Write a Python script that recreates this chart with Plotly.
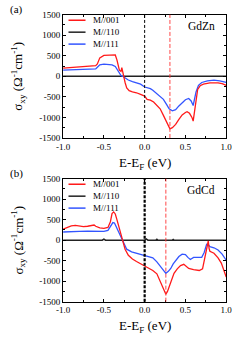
import plotly.graph_objects as go

# ---------------- data ----------------
zn_001_x = [-1.0,-0.9,-0.8,-0.7,-0.6,-0.58,-0.55,-0.5,-0.45,-0.4,-0.36,-0.34,-0.31,-0.29,-0.28,-0.27,-0.26,-0.24,-0.22,-0.19,-0.15,-0.1,-0.05,0.0,0.03,0.07,0.11,0.15,0.19,0.23,0.27,0.31,0.34,0.38,0.42,0.46,0.5,0.52,0.55,0.58,0.595,0.61,0.63,0.65,0.68,0.72,0.8,0.9,0.95,1.0]
zn_001_y = [200,215,230,245,260,300,450,510,520,525,520,400,150,120,210,120,0,-150,-280,-350,-380,-400,-440,-480,-560,-580,-625,-700,-790,-950,-1120,-1280,-1250,-1170,-1050,-940,-880,-860,-900,-1000,-1090,-850,-550,-320,-230,-190,-160,-160,-180,-220]

zn_111_x = [-1.0,-0.8,-0.6,-0.58,-0.55,-0.5,-0.45,-0.4,-0.36,-0.33,-0.31,-0.29,-0.27,-0.24,-0.2,-0.15,-0.1,-0.05,0.0,0.04,0.07,0.1,0.15,0.2,0.23,0.27,0.3,0.34,0.38,0.42,0.46,0.5,0.54,0.57,0.595,0.61,0.63,0.66,0.7,0.77,0.85,0.92,1.0]
zn_111_y = [150,165,180,220,280,295,295,280,240,150,60,20,0,-40,-90,-130,-155,-190,-260,-280,-300,-340,-430,-510,-560,-690,-790,-840,-810,-720,-640,-570,-540,-600,-710,-560,-380,-220,-150,-110,-95,-110,-150]

zn_110_x = [-1.0,1.0]
zn_110_y = [0,0]

cd_001_x = [-1.0,-0.95,-0.9,-0.85,-0.8,-0.75,-0.7,-0.65,-0.62,-0.6,-0.55,-0.5,-0.45,-0.42,-0.4,-0.38,-0.36,-0.34,-0.32,-0.3,-0.28,-0.26,-0.24,-0.2,-0.15,-0.1,-0.05,0.0,0.05,0.1,0.15,0.2,0.24,0.26,0.28,0.3,0.33,0.36,0.4,0.44,0.48,0.51,0.54,0.6,0.67,0.71,0.74,0.76,0.78,0.79,0.8,0.85,0.9,0.94,0.97,1.0]
cd_001_y = [270,320,350,360,340,330,340,360,370,340,300,290,310,450,650,690,640,500,350,200,50,-80,-220,-370,-460,-520,-570,-640,-690,-740,-820,-1060,-1250,-1320,-1250,-1130,-950,-810,-700,-620,-590,-630,-690,-720,-740,-700,-400,-150,-20,-200,-270,-320,-430,-560,-720,-900]

cd_111_x = [-1.0,-0.9,-0.8,-0.7,-0.6,-0.5,-0.45,-0.42,-0.39,-0.37,-0.35,-0.32,-0.29,-0.26,-0.22,-0.16,-0.08,0.0,0.05,0.1,0.15,0.2,0.23,0.26,0.29,0.32,0.35,0.38,0.42,0.46,0.5,0.53,0.56,0.6,0.7,0.73,0.76,0.78,0.8,0.85,0.9,0.95,1.0]
cd_111_y = [200,215,215,220,225,215,240,330,430,420,330,230,90,-60,-220,-285,-325,-365,-400,-430,-530,-660,-740,-810,-760,-690,-580,-490,-400,-340,-350,-420,-470,-420,-420,-300,-100,-110,-160,-185,-240,-340,-490]

cd_110_x = [-1.0,-0.52,-0.5,-0.48,0.0,0.02,0.04,0.14,0.15,0.16,0.34,0.35,0.36,1.0]
cd_110_y = [0,0,25,0,0,30,0,0,20,0,0,15,0,0]

zn_ef_mark = 0.31
cd_ef_mark = 0.26

series_names = ["M//001", "M//110", "M//111"]
series_colors = ["#ff1a1a", "#222222", "#3355ff"]
x_ticks = [-1.0, -0.5, 0.0, 0.5, 1.0]
x_tick_labels = ["-1.0", "-0.5", "0.0", "0.5", "1.0"]
y_ticks = [-1500, -1000, -500, 0, 500, 1000, 1500]
y_tick_labels = ["-1500", "-1000", "-500", "0", "500", "1000", "1500"]

W, H = 241, 338
FONT = "Liberation Serif"

fig = go.Figure()

def add_panel(xa, ya, x001, y001, x110, y110, x111, y111):
    fig.add_trace(go.Scatter(x=x110, y=y110, mode="lines", name=series_names[1],
                             line=dict(color=series_colors[1], width=1.6),
                             xaxis=xa, yaxis=ya, showlegend=False))
    fig.add_trace(go.Scatter(x=x111, y=y111, mode="lines", name=series_names[2],
                             line=dict(color=series_colors[2], width=1.3),
                             xaxis=xa, yaxis=ya, showlegend=False))
    fig.add_trace(go.Scatter(x=x001, y=y001, mode="lines", name=series_names[0],
                             line=dict(color=series_colors[0], width=1.3),
                             xaxis=xa, yaxis=ya, showlegend=False))

add_panel("x", "y", zn_001_x, zn_001_y, zn_110_x, zn_110_y, zn_111_x, zn_111_y)
add_panel("x2", "y2", cd_001_x, cd_001_y, cd_110_x, cd_110_y, cd_111_x, cd_111_y)

# pixel geometry
px_l, px_r = 59.3, 231.7
top_t, top_b = 10, 137
bot_t, bot_b = 179, 305.7

def ydom(t, b):
    return [1 - b / H, 1 - t / H]

axis_common = dict(showline=True, linecolor="black", linewidth=1, mirror="ticks",
                   ticks="inside", ticklen=3, tickcolor="black", showgrid=False,
                   zeroline=False, tickfont=dict(family=FONT, size=9, color="black"))

xcommon = dict(axis_common, range=[-1, 1], tickvals=x_ticks, ticktext=x_tick_labels,
               minor=dict(ticks="inside", ticklen=2, dtick=0.25, tickcolor="black"),
               domain=[px_l / W, px_r / W])
ycommon = dict(axis_common, range=[-1500, 1500], tickvals=y_ticks, ticktext=y_tick_labels,
               minor=dict(ticks="inside", ticklen=2, dtick=250, tickcolor="black"))

fig.update_layout(
    width=W, height=H, margin=dict(l=0, r=0, t=0, b=0),
    font=dict(family=FONT, color="black"),
    paper_bgcolor="white", plot_bgcolor="white",
    xaxis=dict(xcommon, anchor="y"),
    yaxis=dict(ycommon, domain=ydom(top_t, top_b), anchor="x"),
    xaxis2=dict(xcommon, anchor="y2"),
    yaxis2=dict(ycommon, domain=ydom(bot_t, bot_b), anchor="x2"),
    showlegend=False,
)

shapes = []
annotations = []
for xr, yr, ef_mark, name, panel_lbl, t, b, black_w in [
        ("x", "y", zn_ef_mark, "GdZn", "(a)", top_t, top_b, 1.0),
        ("x2", "y2", cd_ef_mark, "GdCd", "(b)", bot_t, bot_b, 2.2)]:
    shapes.append(dict(type="line", xref=xr, yref=yr + " domain", x0=0, x1=0, y0=0, y1=1,
                       line=dict(color="black", width=black_w,
                                 dash="3px,2px" if black_w < 1.5 else "3px,1.5px")))
    shapes.append(dict(type="line", xref=xr, yref=yr + " domain", x0=ef_mark, x1=ef_mark, y0=0, y1=1,
                       line=dict(color="#ff3333", width=0.9, dash="4px,2px")))
    # legend
    for i, (nm, col) in enumerate(zip(series_names, series_colors)):
        ypix = t + 5.7 + 12.3 * i
        yp = 1 - ypix / H
        shapes.append(dict(type="line", xref="paper", yref="paper",
                           x0=65 / W, x1=83 / W, y0=yp, y1=yp,
                           line=dict(color=col, width=1.5)))
        annotations.append(dict(xref="paper", yref="paper", x=89 / W, y=yp, text=nm,
                                showarrow=False, xanchor="left", yanchor="middle",
                                font=dict(family=FONT, size=9, color="black")))
    annotations.append(dict(xref="paper", yref="paper", x=222 / W, y=1 - (t + 11.5) / H, text=name,
                            showarrow=False, xanchor="right", yanchor="middle",
                            font=dict(family=FONT, size=11.5, color="black")))
    annotations.append(dict(xref="paper", yref="paper", x=1 / W, y=1 - (t - 5) / H, text=panel_lbl,
                            showarrow=False, xanchor="left", yanchor="middle",
                            font=dict(family=FONT, size=11, color="black")))
    # y title
    annotations.append(dict(xref="paper", yref="paper", x=12 / W, y=1 - ((t + b) / 2) / H,
                            text="σ<sub>xy</sub> (Ω<sup>-1</sup>cm<sup>-1</sup>)", textangle=-90,
                            showarrow=False, xanchor="center", yanchor="middle",
                            font=dict(family=FONT, size=13, color="black")))
    # x title
    annotations.append(dict(xref="paper", yref="paper", x=145.5 / W, y=1 - (b + 26) / H,
                            text="E-E<sub>F</sub> (eV)",
                            showarrow=False, xanchor="center", yanchor="middle",
                            font=dict(family=FONT, size=13, color="black")))

fig.update_layout(shapes=shapes, annotations=annotations)
fig.write_html("out.html", config={"displayModeBar": False},
               post_script="document.body.style.margin='0';document.body.style.overflow='hidden';")
